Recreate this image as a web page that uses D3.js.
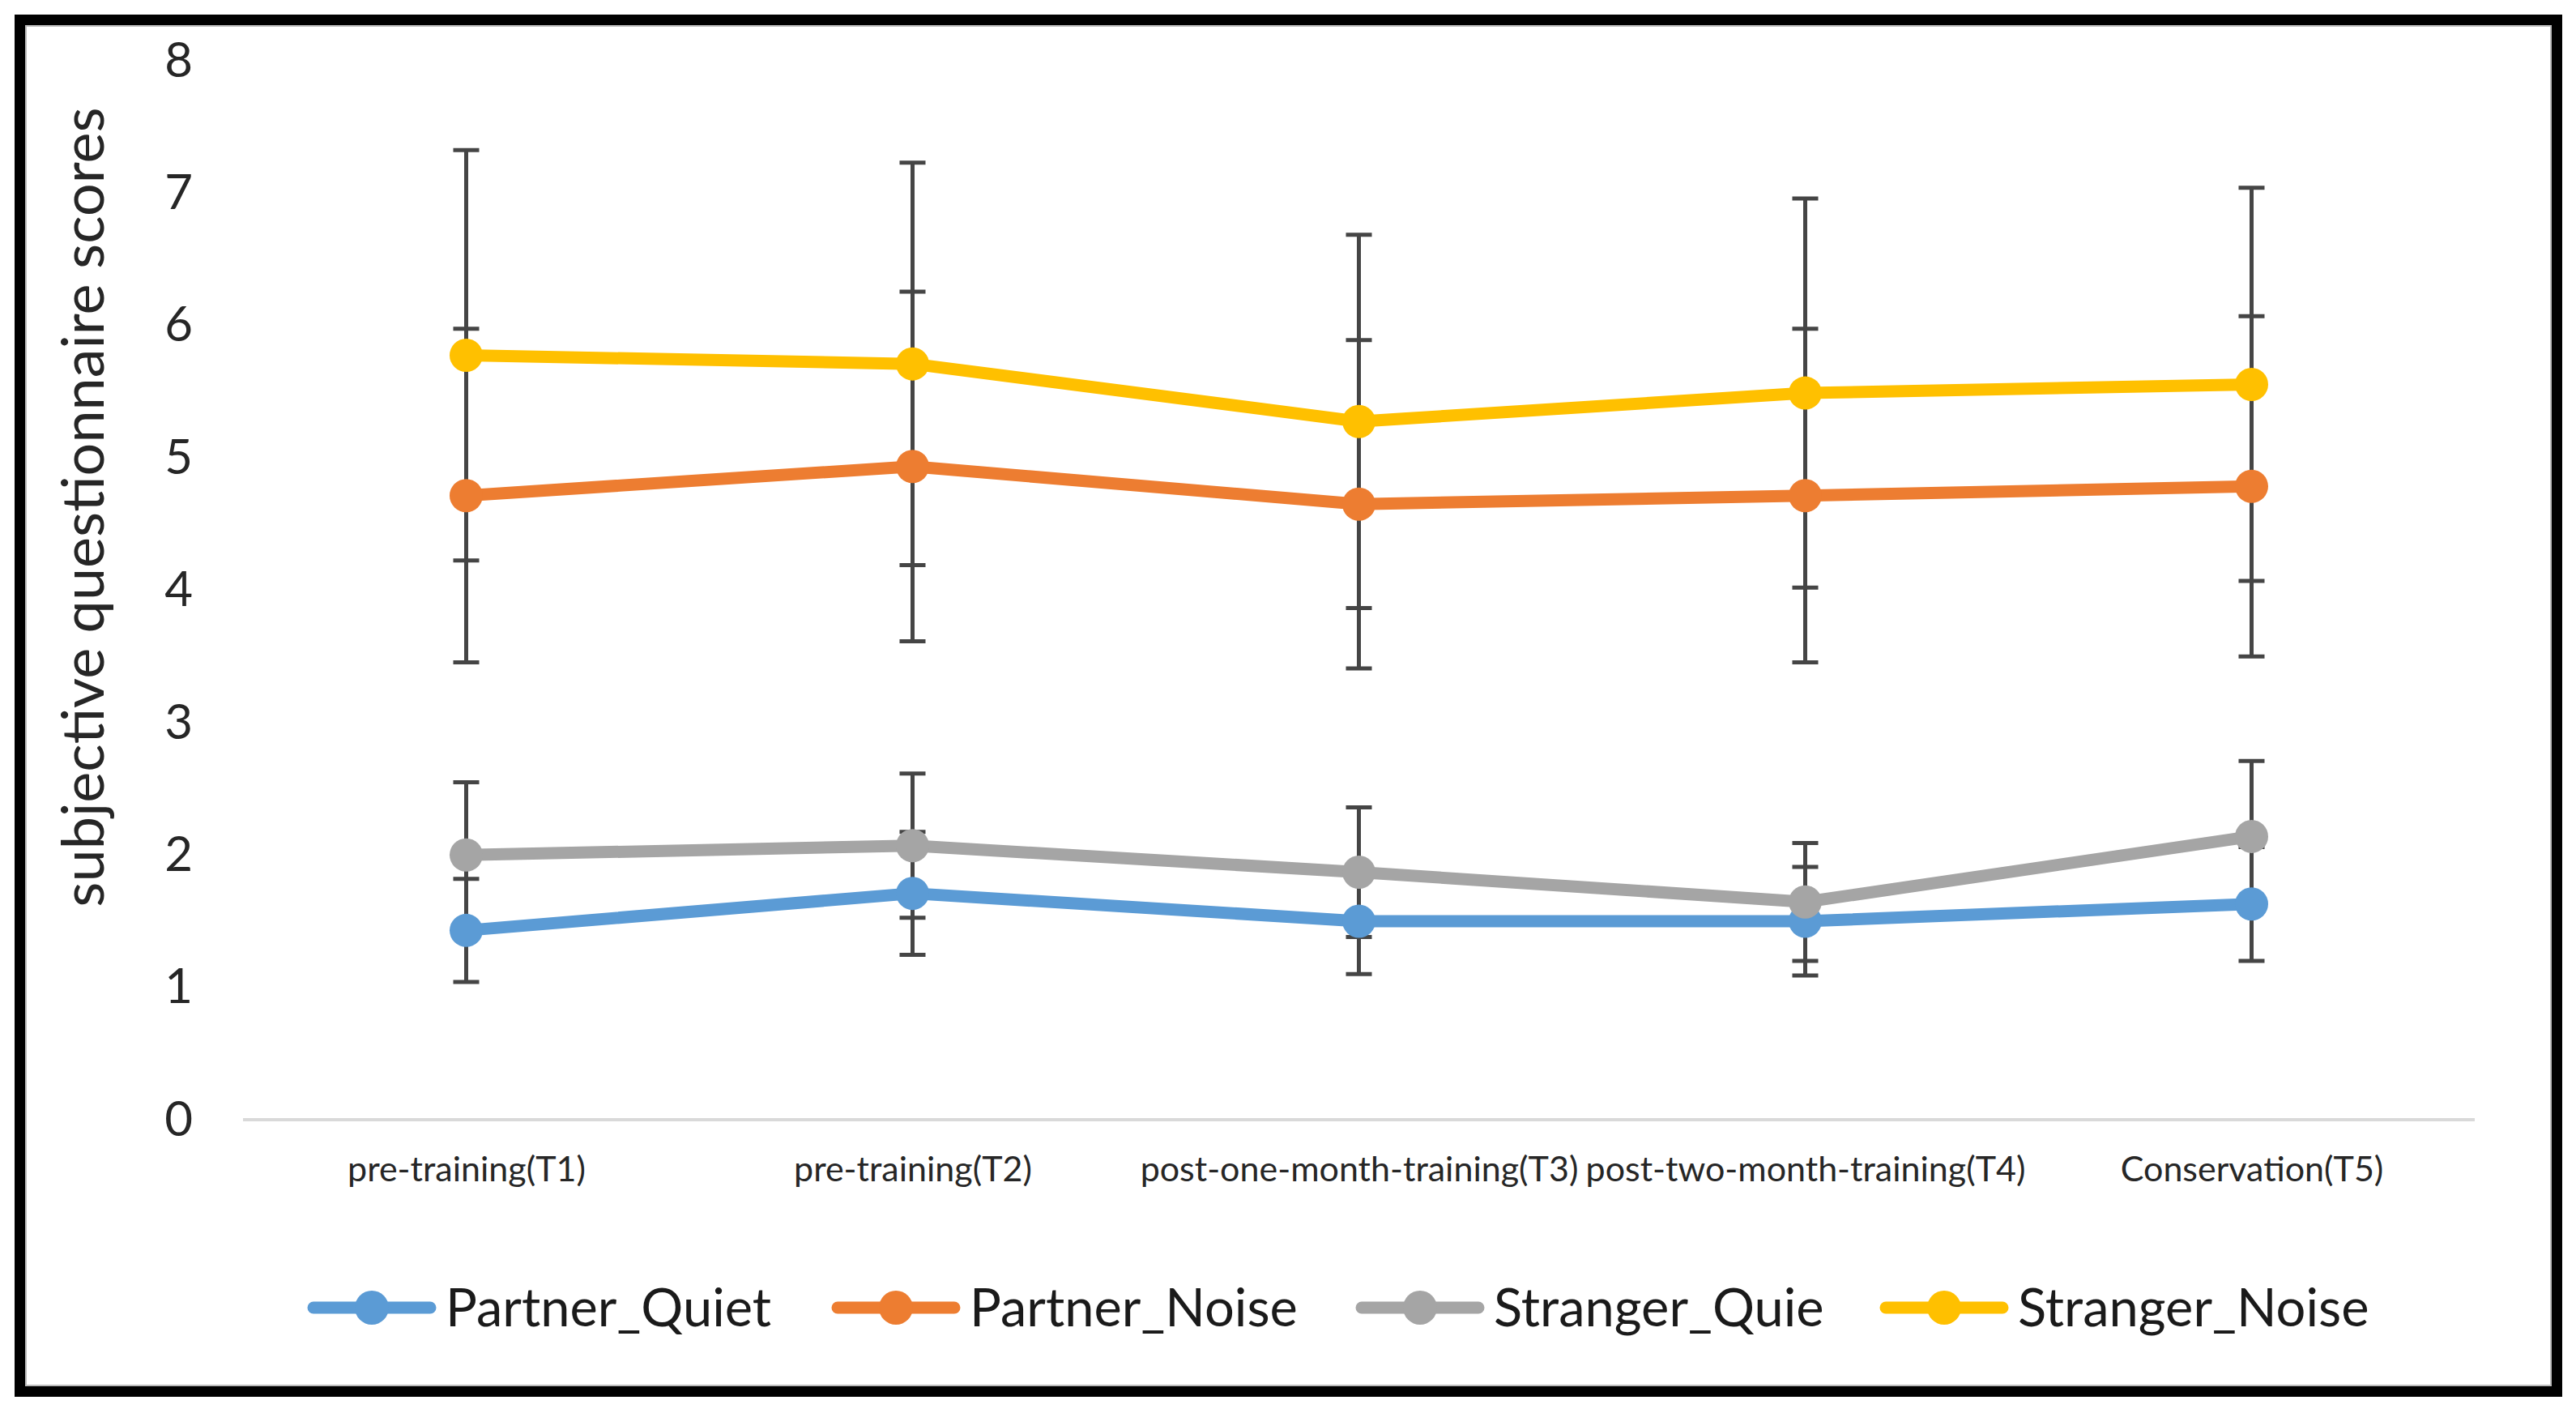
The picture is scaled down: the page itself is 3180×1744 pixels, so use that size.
<!DOCTYPE html>
<meta charset="utf-8">
<html>
<head>
    <style>
        body { margin: 0; background: #fff; }
        svg { display: block; font-family: Lato, "Open Sans", sans-serif; }
        .tick text { fill: #262626; }
    </style>
    <script src="https://d3js.org/d3.v7.min.js"></script>
</head>
<body>
  <svg width="3180" height="1744"></svg>
  <script>

      // time points on the x axis
      var categories = ["pre-training(T1)", "pre-training(T2)", "post-one-month-training(T3)",
                        "post-two-month-training(T4)", "Conservation(T5)"];

      var seriesNames = ["Partner_Quiet", "Partner_Noise", "Stranger_Quie", "Stranger_Noise"];
      var seriesColors = ["#5b9bd5", "#ed7d31", "#a5a5a5", "#ffc000"];

      // means
      var partnerQuiet  = [1.43, 1.71, 1.50, 1.50, 1.63];
      var partnerNoise  = [4.715, 4.935, 4.65, 4.715, 4.785];
      var strangerQuie  = [2.00, 2.07, 1.87, 1.645, 2.14];
      var strangerNoise = [5.775, 5.71, 5.275, 5.49, 5.555];

      // +/- error bar lengths
      var partnerQuietErr  = [0.39, 0.465, 0.40, 0.41, 0.43];
      var partnerNoiseErr  = [1.26, 1.32, 1.24, 1.26, 1.285];
      var strangerQuieErr  = [0.55, 0.545, 0.49, 0.445, 0.57];
      var strangerNoiseErr = [1.55, 1.52, 1.41, 1.47, 1.485];

      var yTicks = [0, 1, 2, 3, 4, 5, 6, 7, 8];

      var values = [partnerQuiet, partnerNoise, strangerQuie, strangerNoise];
      var errors = [partnerQuietErr, partnerNoiseErr, strangerQuieErr, strangerNoiseErr];

      var series = seriesNames.map(function(name, s) {
          return {
              name: name,
              color: seriesColors[s],
              points: categories.map(function(c, i) {
                  return { cat: c, v: values[s][i], e: errors[s][i] };
              })
          };
      });

      var svg = d3.select("svg");

      // outer frame
      svg.append("rect")
         .attr("x", 24.5).attr("y", 24.5)
         .attr("width", 3132).attr("height", 1693)
         .attr("fill", "#fff")
         .attr("stroke", "#000")
         .attr("stroke-width", 13);
      svg.append("rect")
         .attr("x", 32).attr("y", 32)
         .attr("width", 3117).attr("height", 1678)
         .attr("fill", "none")
         .attr("stroke", "#bbb")
         .attr("stroke-width", 2);

      var x = d3.scalePoint().domain(categories).range([300, 3055]).padding(0.5),
          y = d3.scaleLinear().domain([0, 8]).range([1382, 75]);

      // baseline gridline at 0
      svg.append("line")
         .attr("x1", x.range()[0]).attr("x2", x.range()[1])
         .attr("y1", y(0)).attr("y2", y(0))
         .attr("stroke", "#d9d9d9")
         .attr("stroke-width", 4);

      // y axis
      var yAxis = svg.append("g")
         .attr("transform", "translate(256,0)")
         .call(d3.axisLeft(y).tickValues(yTicks).tickSize(0).tickPadding(18));
      yAxis.select(".domain").remove();
      yAxis.selectAll("text").attr("font-size", "60px").attr("font-family", "Lato");

      svg.append("text")
         .attr("transform", "translate(103,626) rotate(-90)")
         .attr("text-anchor", "middle")
         .attr("dy", "0.35em")
         .attr("font-size", "72px")
         .attr("fill", "#262626")
         .text("subjective questionnaire scores");

      // x axis
      var xAxis = svg.append("g")
         .attr("transform", "translate(0," + y(0) + ")")
         .call(d3.axisBottom(x).tickSize(0).tickPadding(45));
      xAxis.select(".domain").remove();
      xAxis.selectAll("text").attr("font-size", "43px").attr("font-family", "Lato");

      // error bars
      var capHalf = 16;
      var eb = svg.append("g")
         .attr("stroke", "#454545")
         .attr("stroke-width", 5);
      series.forEach(function(s) {
          var g = eb.selectAll(null).data(s.points).enter().append("g");
          g.append("line")
           .attr("x1", function(d) { return x(d.cat); })
           .attr("x2", function(d) { return x(d.cat); })
           .attr("y1", function(d) { return y(d.v + d.e); })
           .attr("y2", function(d) { return y(d.v - d.e); });
          g.append("line")
           .attr("x1", function(d) { return x(d.cat) - capHalf; })
           .attr("x2", function(d) { return x(d.cat) + capHalf; })
           .attr("y1", function(d) { return y(d.v + d.e); })
           .attr("y2", function(d) { return y(d.v + d.e); });
          g.append("line")
           .attr("x1", function(d) { return x(d.cat) - capHalf; })
           .attr("x2", function(d) { return x(d.cat) + capHalf; })
           .attr("y1", function(d) { return y(d.v - d.e); })
           .attr("y2", function(d) { return y(d.v - d.e); });
      });

      // lines and markers
      var line = d3.line()
          .x(function(d) { return x(d.cat); })
          .y(function(d) { return y(d.v); });

      series.forEach(function(s) {
          svg.append("path")
             .datum(s.points)
             .attr("fill", "none")
             .attr("stroke", s.color)
             .attr("stroke-width", 15)
             .attr("stroke-linejoin", "round")
             .attr("d", line);
          svg.selectAll(null)
             .data(s.points)
             .enter().append("circle")
             .attr("cx", function(d) { return x(d.cat); })
             .attr("cy", function(d) { return y(d.v); })
             .attr("r", 20.5)
             .attr("fill", s.color);
      });

      // legend
      var legend = svg.append("g").attr("transform", "translate(380,1614)");
      var item = legend.selectAll("g")
          .data(series)
          .enter().append("g")
          .attr("transform", function(d, i) { return "translate(" + (i * 647) + ",0)"; });
      item.append("line")
          .attr("x1", 7).attr("x2", 151)
          .attr("stroke", function(d) { return d.color; })
          .attr("stroke-width", 15)
          .attr("stroke-linecap", "round");
      item.append("circle")
          .attr("cx", 79)
          .attr("r", 21)
          .attr("fill", function(d) { return d.color; });
      item.append("text")
          .attr("x", 170)
          .attr("dy", "0.36em")
          .attr("font-size", "65px")
          .attr("fill", "#1a1a1a")
          .text(function(d) { return d.name; });

  </script>
</body>
</html>
